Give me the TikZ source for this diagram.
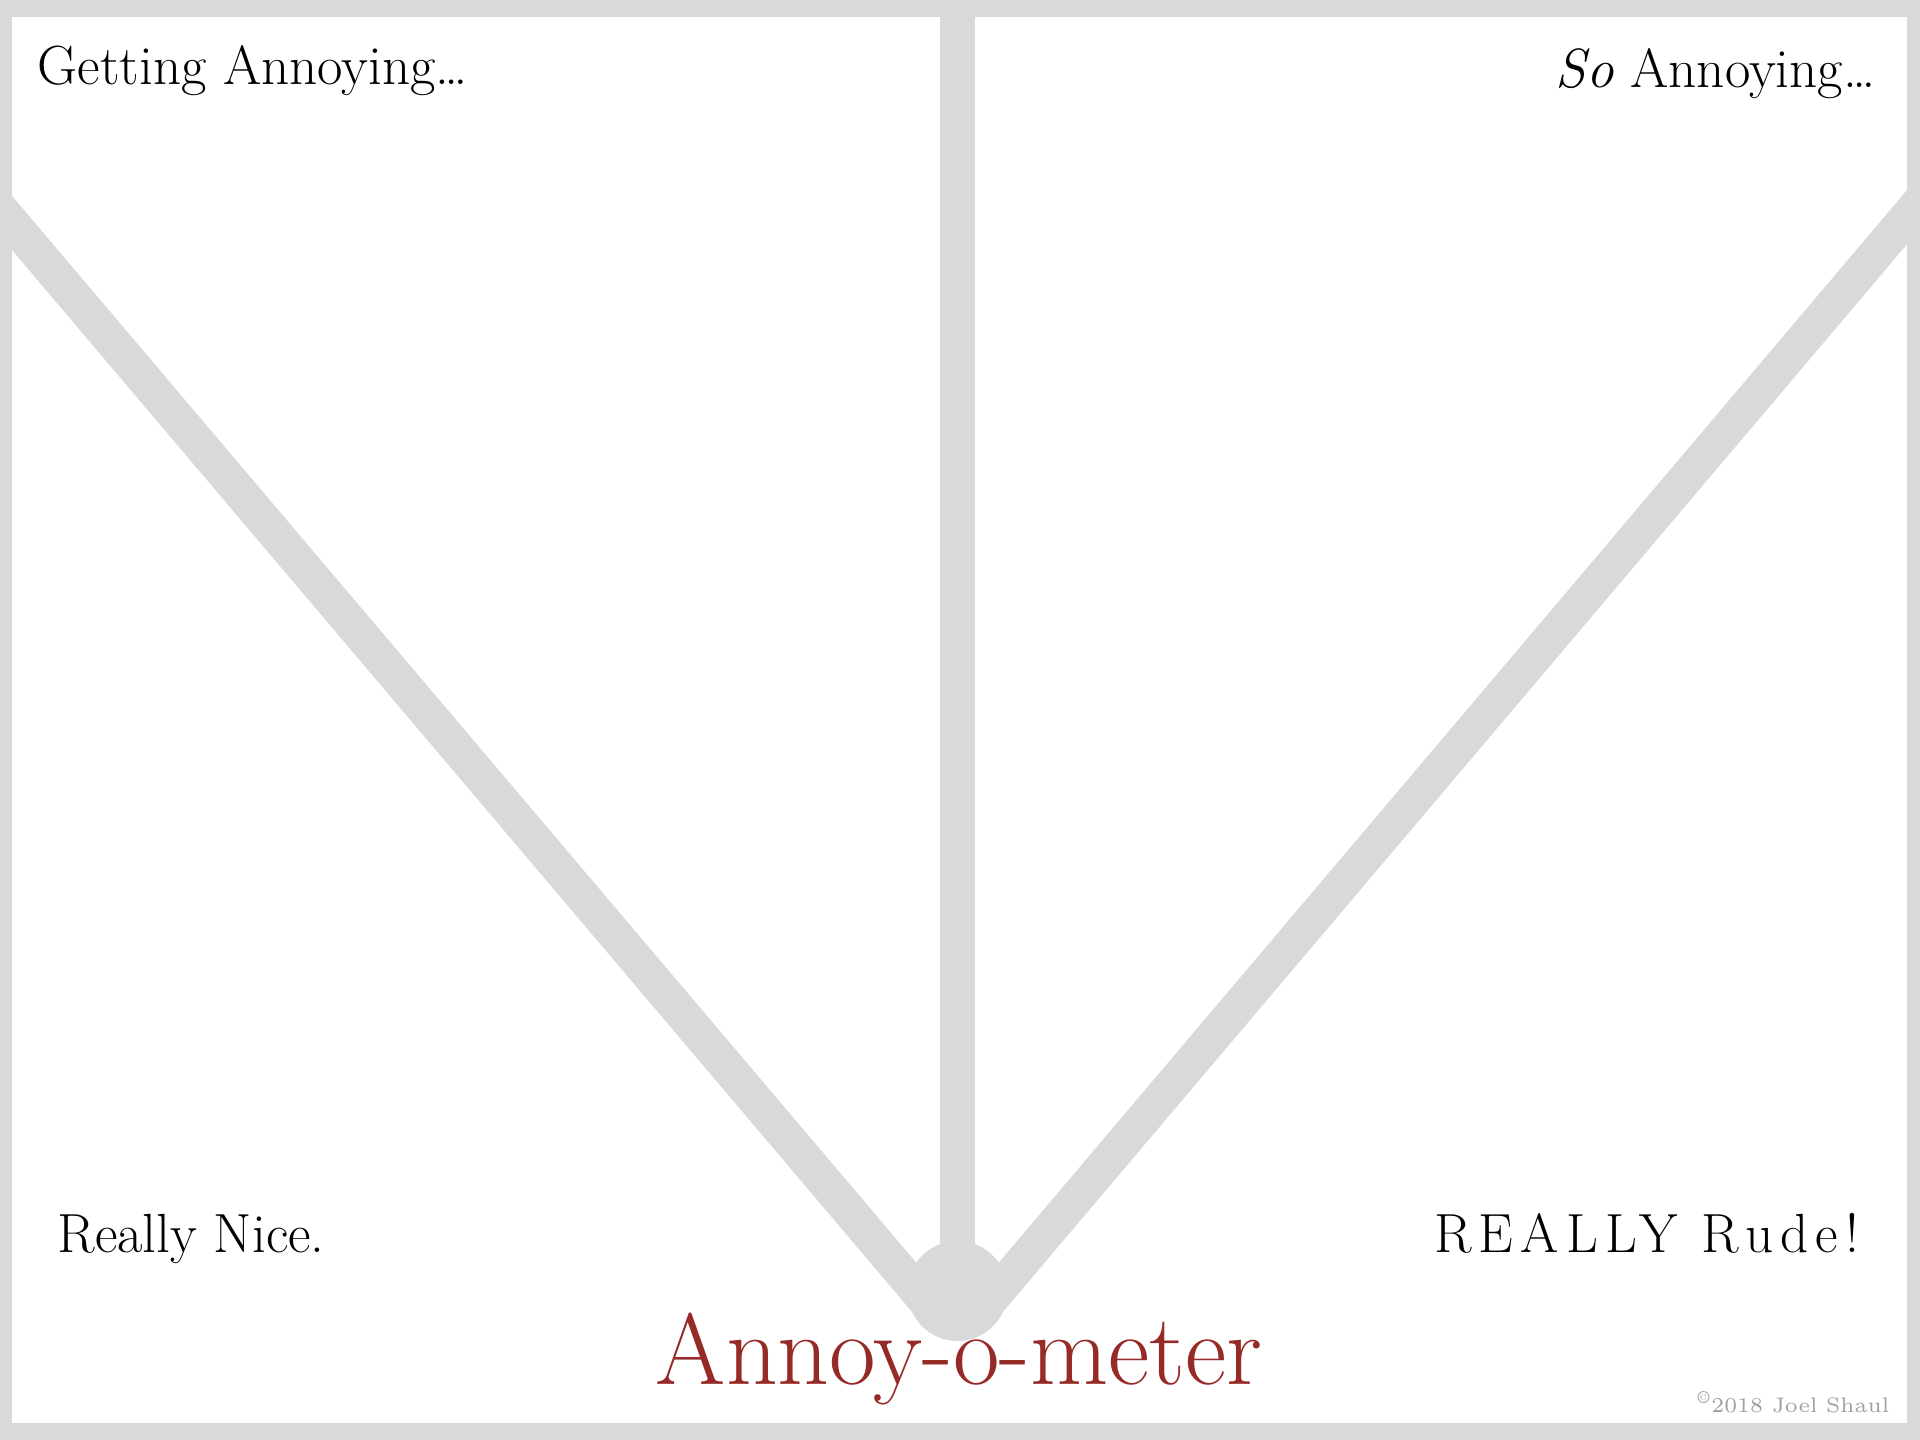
\documentclass[tikz,border=0pt]{standalone}
\usepackage{fontspec}
\setmainfont{Latin Modern Roman}
\definecolor{dialgray}{HTML}{D9D9D9}
\definecolor{meterred}{HTML}{952A26}
\definecolor{notegray}{HTML}{A0A0A0}

\begin{document}
\begin{tikzpicture}[x=0.1mm, y=-0.1mm,
  needle/.style={dialgray, line width=3.5mm},
  zone/.style={inner sep=0pt, font=\fontsize{15.7}{18}\selectfont}
]
\useasboundingbox (0,0) rectangle (1920,1440);
% frame
\fill[dialgray] (0,0) rectangle (1920,1440);
\fill[white] (12,17) rectangle (1907,1423);

\coordinate (hub) at (957.5,1291);
\coordinate (leftfoot) at (930,1306);
\coordinate (rightfoot) at (985,1306);
\coordinate (leftend) at (-10,197);
\coordinate (rightend) at (1930,190);

% needles
\draw[needle] (957.5,0) -- (hub);
\draw[needle] (leftend) -- (leftfoot);
\draw[needle] (rightend) -- (rightfoot);
\fill[dialgray] (hub) circle[radius=5mm];

% zone labels
\node[zone, anchor=base west] (getting) at (37,85) {Getting Annoying\ldots};
\node[zone, anchor=base east] (soann) at (1876,88) {\textit{So} Annoying\ldots};
\node[zone, anchor=base west] (nice) at (57,1252) {Really Nice.};
\node[zone, anchor=base east] (rude) at (1860,1252) {\addfontfeature{LetterSpace=13}REALLY Rude!};

\node[inner sep=0pt, anchor=base, text=meterred, font=\fontsize{28.8}{32}\selectfont] (title) at (959,1384) {Annoy-o-meter};
\node[inner sep=0pt, anchor=base east, text=notegray, font=\fontsize{6}{7}\selectfont] (credit) at (1890,1412) {\textsuperscript{\textcopyright}2018 Joel Shaul};
\end{tikzpicture}
\end{document}
